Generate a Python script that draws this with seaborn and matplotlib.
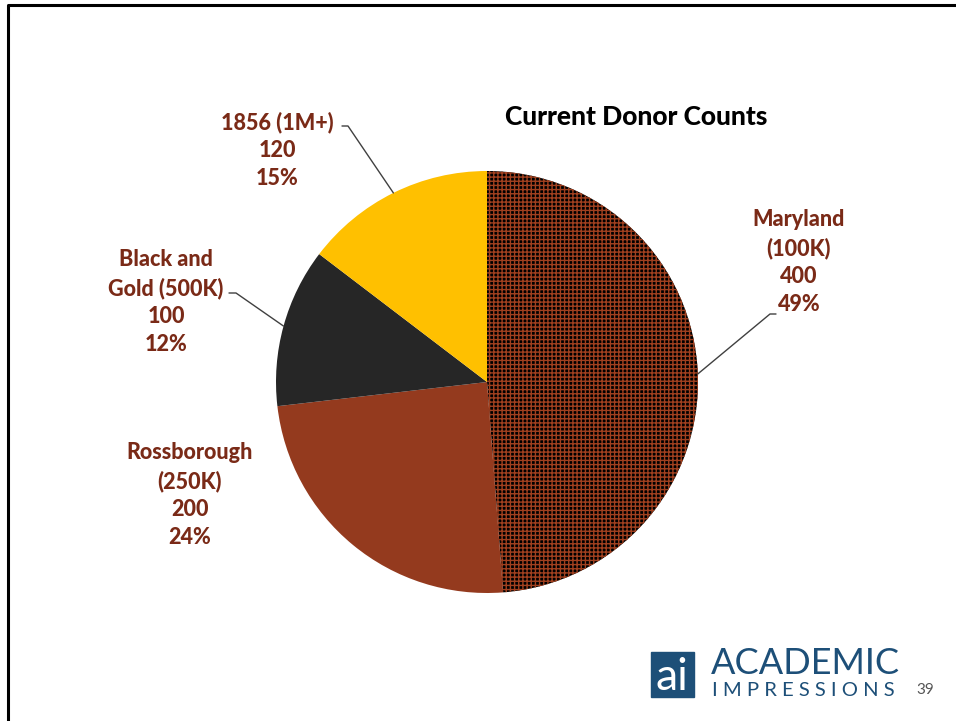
import numpy as np
import seaborn as sns
import matplotlib.pyplot as plt
from matplotlib.patches import Rectangle

# data
tiers = ["Maryland\n(100K)", "Rossborough\n(250K)", "Black and\nGold (500K)", "1856 (1M+)"]
counts = [400, 200, 100, 120]
colors = ["#000000", "#943A1E", "#262626", "#FFC000"]
title = "Current Donor Counts"

sns.set_theme(style="white")
plt.rcParams['font.family'] = ['Lato', 'DejaVu Sans']
plt.rcParams['hatch.linewidth'] = 1.0

W, H = 956, 721
fig = plt.figure(figsize=(W / 100, H / 100), dpi=100)
ax = fig.add_axes([0, 0, 1, 1])

cx, cy, r = 487, H - 382, 211
wedges, _ = ax.pie(counts, colors=colors, startangle=90, counterclock=False,
                   center=(cx, cy), radius=r, wedgeprops={'linewidth': 0})
# patterned Maryland slice
wedges[0].set_edgecolor("#A0401F")
wedges[0].set_hatch("++++")
ax.set_xlim(0, W)
ax.set_ylim(0, H)
ax.set_aspect('equal')
ax.axis('off')

total = sum(counts)
pcts = [round(100 * c / total) for c in counts]
txt_col = "#7A2A17"

# label centres (pixels from top) and leader anchors
label_pos = [(799, 262), (190, 495), (166, 302), (277, 150)]
leader_anchor = [(776, 314), None, (229, 293), (342, 126)]
stub = [-6, 0, 7, 6]

for i, w in enumerate(wedges):
    lx, ly = label_pos[i]
    ax.text(lx, H - ly, f"{tiers[i]}\n{counts[i]}\n{pcts[i]}%", ha='center', va='center',
            fontsize=15.5, fontweight='black', color=txt_col, linespacing=1.4)
    if leader_anchor[i] is not None:
        mid = np.deg2rad((w.theta1 + w.theta2) / 2)
        ex, ey = cx + r * np.cos(mid), cy + r * np.sin(mid)
        axx, ayy = leader_anchor[i]
        ax.plot([axx, axx + stub[i], ex], [H - ayy, H - ayy, ey], color="#404040", lw=1.0)

ax.text(636, H - 117, title, ha='center', va='center', fontsize=19,
        fontweight='black', color='black')

# slide frame
ax.plot([8, 8, W], [0, H - 5, H - 5], color='black', lw=2.2, solid_capstyle='butt')

# logo
blue = "#1D4F78"
ax.add_patch(Rectangle((651, H - 697), 43, 45, color=blue))
ax.text(672, H - 678, "ai", ha='center', va='center', fontsize=32, color='white')
ax.text(711, H - 664, "ACADEMIC", ha='left', va='center', fontsize=26, color=blue,
        fontweight='normal')
ax.text(712, H - 690, "I M P R E S S I O N S", ha='left', va='center', fontsize=14.6,
        color=blue)
ax.text(916, H - 690, "39", ha='left', va='center', fontsize=11, color='#555555')

fig.savefig("out.png", dpi=100)
